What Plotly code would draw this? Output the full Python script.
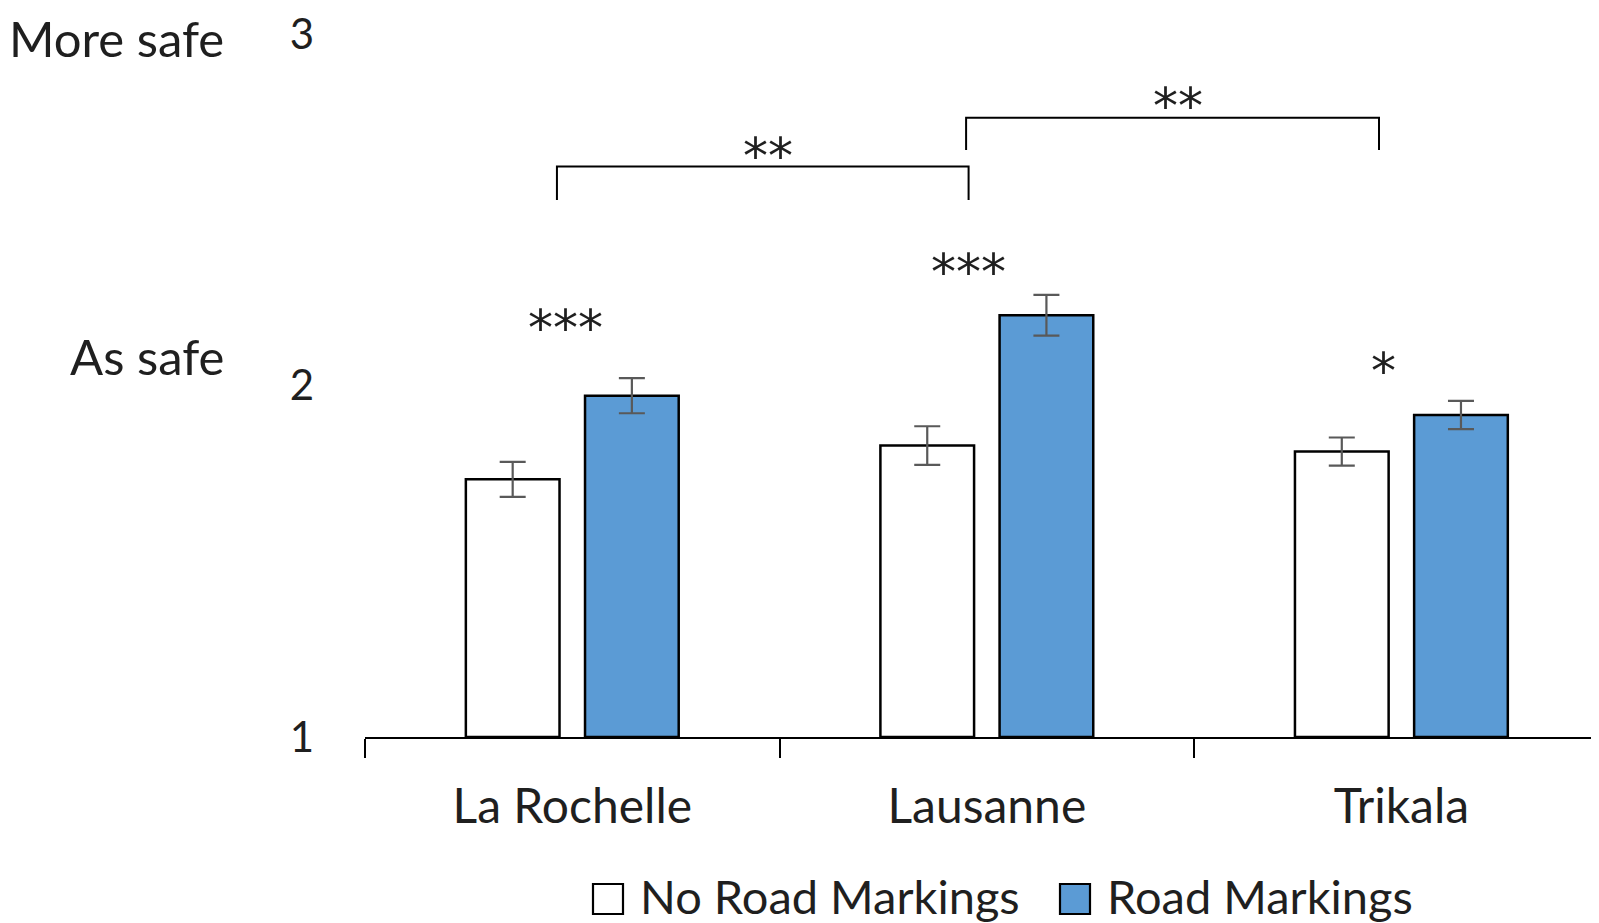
import plotly.graph_objects as go

cities = ["La Rochelle", "Lausanne", "Trikala"]
no_markings = [1.733, 1.829, 1.812]
no_markings_err = [0.050, 0.055, 0.040]
markings = [1.971, 2.200, 1.916]
markings_err = [0.050, 0.058, 0.040]
series_names = ["No Road Markings", "Road Markings"]

y_ticks = [1, 2, 3]
y_side_labels = ["Less safe", "As safe", "More safe"]
y_side_pos = [0.994, 2.084, 2.988]

# significance within cities: (x position in category units, y, label)
within_x = [-0.017, 0.956, 1.956]
within_y = [2.163, 2.322, 2.040]
within_lbl = ["***", "***", "*"]

# significance between cities brackets: x0, x1, top y, bottom y, label y, label
br_x0 = [-0.037, 0.950]
br_x1 = [0.956, 1.946]
br_top = [2.623, 2.762]
br_bot = [2.528, 2.670]
br_lbl_y = [2.652, 2.794]
br_lbl = ["**", "**"]

FONT = "Lato"
TXT = "#1f1f1f"
BLUE = "#5B9BD5"
STAR_FONT = dict(family="DejaVu Sans", size=50, color=TXT)

W, H = 1599, 923
ML, MR, MT, MB = 357, 0, 26, 194
PW, PH = W - ML - MR, H - MT - MB


def px_x(px):
    return (px - ML) / PW


def px_y(py):
    return (H - MB - py) / PH


fig = go.Figure()
fig.add_trace(go.Bar(
    name=series_names[0], x=cities, y=[v - 1 for v in no_markings], base=1,
    marker=dict(color="white", line=dict(color="black", width=2.5)),
    error_y=dict(type="data", array=no_markings_err, color="#595959", thickness=2.2, width=13),
    showlegend=False,
))
fig.add_trace(go.Bar(
    name=series_names[1], x=cities, y=[v - 1 for v in markings], base=1,
    marker=dict(color=BLUE, line=dict(color="black", width=2.5)),
    error_y=dict(type="data", array=markings_err, color="#595959", thickness=2.2, width=13),
    showlegend=False,
))

shapes = []
for x0, x1, t, b in zip(br_x0, br_x1, br_top, br_bot):
    shapes.append(dict(type="path", xref="x", yref="y",
                       path=f"M {x0},{b} L {x0},{t} L {x1},{t} L {x1},{b}",
                       line=dict(color="black", width=2)))

annotations = []
for x, y, t in zip(within_x, within_y, within_lbl):
    annotations.append(dict(x=x, y=y, xref="x", yref="y", text=t, showarrow=False,
                            font=STAR_FONT))
for x0, x1, y, t in zip(br_x0, br_x1, br_lbl_y, br_lbl):
    annotations.append(dict(x=(x0 + x1) / 2 + 0.012, y=y, xref="x", yref="y", text=t,
                            showarrow=False, font=STAR_FONT))
for t, y in zip(y_side_labels, y_side_pos):
    annotations.append(dict(x=-0.112, y=y, xref="paper", yref="y", text=t, showarrow=False,
                            xanchor="right", yanchor="middle",
                            font=dict(family=FONT, size=49, color=TXT)))

# legend (swatch + label), positioned in pixels below the plot
leg_box_x = [585, 1052]
leg_fill = ["white", BLUE]
for bx, fill, name in zip(leg_box_x, leg_fill, series_names):
    shapes.append(dict(type="rect", xref="paper", yref="paper",
                       x0=px_x(bx), x1=px_x(bx + 30), y0=px_y(906), y1=px_y(876),
                       fillcolor=fill, line=dict(color="black", width=2.2)))
    annotations.append(dict(x=px_x(bx + 45), y=px_y(888), xref="paper", yref="paper",
                            text=name, showarrow=False, xanchor="left", yanchor="middle",
                            font=dict(family=FONT, size=47, color=TXT)))

fig.update_layout(
    width=W, height=H,
    margin=dict(l=ML, r=MR, t=MT, b=MB, autoexpand=False),
    plot_bgcolor="white", paper_bgcolor="white",
    barmode="group", bargap=0.425, bargroupgap=0.214,
    font=dict(family=FONT, size=48, color=TXT),
    shapes=shapes, annotations=annotations,
    showlegend=False,
    xaxis=dict(range=[-0.5, 2.496], showline=True, linecolor="black", linewidth=2,
               ticks="outside", tickson="boundaries", ticklen=19, tickwidth=2, tickcolor="black",
               showgrid=False, zeroline=False, ticklabelstandoff=26, automargin=False),
    yaxis=dict(range=[1, 3], tickvals=y_ticks, showline=False, showgrid=False, zeroline=False,
               ticks="", ticklabelstandoff=50, automargin=False, ticklabeloverflow="allow",
               tickfont=dict(family=FONT, size=42, color=TXT)),
)

fig.write_html("out.html")
